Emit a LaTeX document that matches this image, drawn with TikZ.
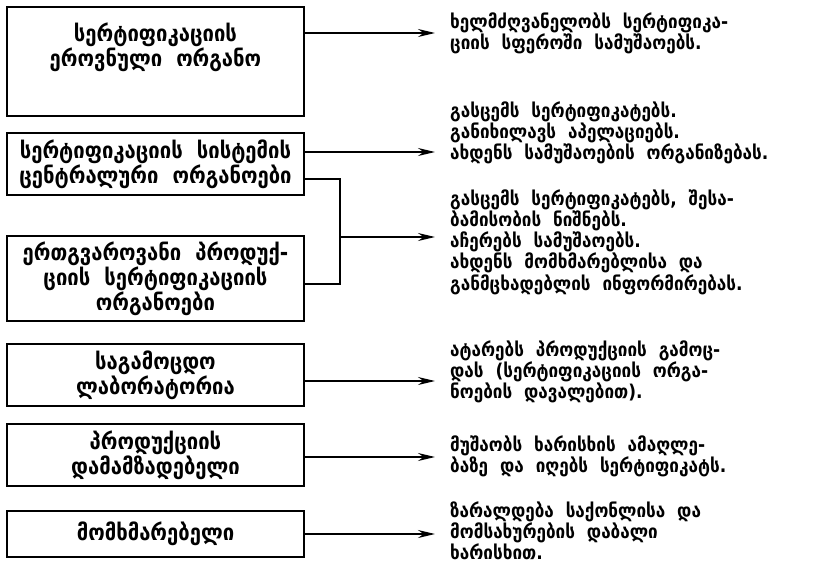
\documentclass[tikz,border=0pt]{standalone}
\usepackage{fontspec}
\setmainfont{DejaVu Sans}[WordSpace=2, FakeStretch=0.9]
\usetikzlibrary{arrows.meta}

\tikzset{
    orgbox/.style={draw, line width=1.6pt, minimum width=297pt, inner sep=0pt},
    orgtext/.style={align=center, inner sep=0pt, font=\fontsize{22.5}{23}\selectfont\bfseries},
    duty/.style={anchor=west, align=left, inner sep=0pt, font=\fontsize{19}{18}\selectfont\bfseries},
    link/.style={line width=1.6pt},
    arr/.style={link, -{Stealth[length=17pt, width=8pt]}}
}

\begin{document}
\begin{tikzpicture}[x=1pt, y=-1pt]
            \useasboundingbox (0,0) rectangle (821,581);

            \node[orgbox, minimum height=109pt] (nat) at (155.5,61.5) {};
            \node[orgtext] (natlbl) at (155.5,47) {სერტიფიკაციის\\ეროვნული ორგანო};
            \node[orgbox, orgtext, minimum height=62pt] (cen) at (155.5,164) {სერტიფიკაციის სისტემის\\ცენტრალური ორგანოები};
            \node[orgbox, orgtext, minimum height=85pt] (hom) at (155.5,278.5) {ერთგვაროვანი პროდუქ-\\ციის სერტიფიკაციის\\ორგანოები};
            \node[orgbox, orgtext, minimum height=62pt] (lab) at (155.5,375) {საგამოცდო\\ლაბორატორია};
            \node[orgbox, orgtext, minimum height=62pt] (man) at (155.5,455) {პროდუქციის\\დამამზადებელი};
            \node[orgbox, orgtext, minimum height=46pt] (con) at (155.5,534) {მომხმარებელი};

            \node[duty] (d1) at (450,33) {ხელმძღვანელობს სერტიფიკა-\\ციის სფეროში სამუშაოებს.};
            \node[duty] (d2) at (450,133) {გასცემს სერტიფიკატებს.\\განიხილავს აპელაციებს.\\ახდენს სამუშაოების ორგანიზებას.};
            \node[duty] (d3) at (450,242) {გასცემს სერტიფიკატებს, შესა-\\ბამისობის ნიშნებს.\\აჩერებს სამუშაოებს.\\ახდენს მომხმარებლისა და\\განმცხადებლის ინფორმირებას.};
            \node[duty] (d4) at (450,372) {ატარებს პროდუქციის გამოც-\\დას (სერტიფიკაციის ორგა-\\ნოების დავალებით).};
            \node[duty] (d5) at (450,456) {მუშაობს ხარისხის ამაღლე-\\ბაზე და იღებს სერტიფიკატს.};
            \node[duty] (d6) at (450,531) {ზარალდება საქონლისა და\\მომსახურების დაბალი\\ხარისხით.};

            \coordinate (e1) at (435,33);
            \coordinate (e2) at (435,152);
            \coordinate (e3) at (435,237);
            \coordinate (e4) at (435,381);
            \coordinate (e5) at (435,457);
            \coordinate (e6) at (435,534);
            \coordinate (jt) at (340,179);
            \coordinate (jb) at (340,284);

            \draw[arr] (nat.east |- e1) -- (e1);
            \draw[arr] (cen.east |- e2) -- (e2);
            \draw[link] (cen.east |- jt) -- (jt) -- (jb) -- (hom.east |- jb);
            \draw[arr] (jt |- e3) -- (e3);
            \draw[arr] (lab.east |- e4) -- (e4);
            \draw[arr] (man.east |- e5) -- (e5);
            \draw[arr] (con.east |- e6) -- (e6);
\end{tikzpicture}
\end{document}
